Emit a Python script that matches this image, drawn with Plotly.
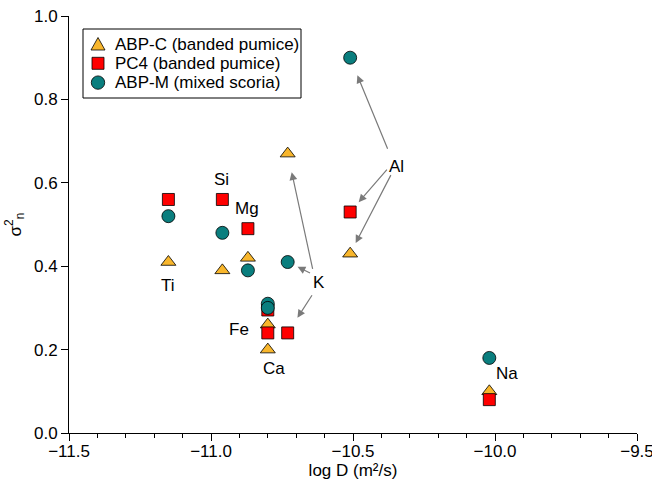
import plotly.graph_objects as go

# Element diffusivities (log D, m^2/s) and normalised variance for each sample set
abpc_elem = ["Ti", "Si", "Mg", "Al", "K", "Fe", "Ca", "Na"]
abpc_logd = [-11.15, -10.96, -10.87, -10.51, -10.73, -10.80, -10.80, -10.02]
abpc_var = [0.41, 0.39, 0.42, 0.43, 0.67, 0.26, 0.20, 0.10]

pc4_elem = ["Ti", "Si", "Mg", "Al", "K", "Fe", "Ca", "Na"]
pc4_logd = [-11.15, -10.96, -10.87, -10.51, -10.73, -10.80, -10.80, -10.02]
pc4_var = [0.56, 0.56, 0.49, 0.53, 0.24, 0.24, 0.295, 0.08]

abpm_elem = ["Ti", "Si", "Mg", "Al", "K", "Fe", "Ca", "Na"]
abpm_logd = [-11.15, -10.96, -10.87, -10.51, -10.73, -10.80, -10.80, -10.02]
abpm_var = [0.52, 0.48, 0.39, 0.90, 0.41, 0.31, 0.30, 0.18]

x_ticks = [-11.5, -11.0, -10.5, -10.0, -9.5]
y_ticks = [0.0, 0.2, 0.4, 0.6, 0.8, 1.0]

# Element labels placed next to their points
label_text = ["Ti", "Si", "Mg", "Al", "K", "Fe", "Ca", "Na"]
label_x = [-11.151, -10.963, -10.875, -10.347, -10.620, -10.901, -10.779, -9.957]
label_y = [0.354, 0.608, 0.5385, 0.638, 0.362, 0.248, 0.155, 0.1425]

# Pointer arrows: (tail x, tail y, series, element, standoff px)
arrow_specs = [
    (-10.376, 0.678, "ABP-M", "Al", 19),
    (-10.376, 0.635, "PC4", "Al", 13),
    (-10.364, 0.622, "ABP-C", "Al", 12),
    (-10.641, 0.390, "ABP-C", "K", 19),
    (-10.646, 0.382, "ABP-M", "K", 11),
    (-10.641, 0.334, "PC4", "K", 18),
]

series = {
    "ABP-C": (abpc_elem, abpc_logd, abpc_var),
    "PC4": (pc4_elem, pc4_logd, pc4_var),
    "ABP-M": (abpm_elem, abpm_logd, abpm_var),
}

legend_names = ["ABP-C (banded pumice)", "PC4 (banded pumice)", "ABP-M (mixed scoria)"]
legend_colors = ["#F8B62C", "#FF0000", "#0A7E7E"]
legend_symbols = ["triangle", "square", "circle"]

FONT = "Liberation Sans, Arial, sans-serif"
W, H = 652, 482
ML, MR, MT, MB = 69, 15, 16, 49
PW, PH = W - ML - MR, H - MT - MB


def px_to_paper(px, py):
    return (px - ML) / PW, (H - MB - py) / PH


outline = dict(color="#000000", width=0.8)

fig = go.Figure()
fig.add_trace(go.Scatter(
    x=abpc_logd, y=abpc_var, mode="markers", name=legend_names[0],
    marker=dict(symbol="triangle-up", size=13, color=legend_colors[0], line=outline),
    cliponaxis=False,
))
fig.add_trace(go.Scatter(
    x=pc4_logd, y=pc4_var, mode="markers", name=legend_names[1],
    marker=dict(symbol="square", size=12, color=legend_colors[1], line=outline),
    cliponaxis=False,
))
fig.add_trace(go.Scatter(
    x=abpm_logd, y=abpm_var, mode="markers", name=legend_names[2],
    marker=dict(symbol="circle", size=13, color=legend_colors[2], line=outline),
    cliponaxis=False,
))

annotations = []
for t, x, y in zip(label_text, label_x, label_y):
    annotations.append(dict(
        x=x, y=y, xref="x", yref="y", text=t, showarrow=False,
        font=dict(size=17, color="#000000", family=FONT),
    ))

for tx, ty, key, elem, so in arrow_specs:
    names, xs, ys = series[key]
    i = names.index(elem)
    annotations.append(dict(
        x=xs[i], y=ys[i], xref="x", yref="y",
        ax=tx, ay=ty, axref="x", ayref="y",
        text="", showarrow=True, arrowhead=2, arrowsize=1.3,
        arrowwidth=1.2, arrowcolor="#7A7A7A", standoff=so,
    ))

# Boxed key in the upper-left corner
shapes = []
bx0, by0 = px_to_paper(83, 29)
bx1, by1 = px_to_paper(301, 98)
shapes.append(dict(type="rect", xref="paper", yref="paper",
                   x0=bx0, x1=bx1, y0=by1, y1=by0,
                   line=dict(color="#000000", width=1), fillcolor="#FFFFFF"))
for k, (name, col, sym) in enumerate(zip(legend_names, legend_colors, legend_symbols)):
    row_y = 44 + 19.3 * k
    kx, ky = px_to_paper(98, row_y)
    common = dict(xref="paper", yref="paper", xsizemode="pixel", ysizemode="pixel",
                  xanchor=kx, yanchor=ky, fillcolor=col,
                  line=dict(color="#000000", width=0.8))
    if sym == "triangle":
        shapes.append(dict(type="path", path="M-7,-6 L7,-6 L0,6.5 Z", **common))
    elif sym == "square":
        shapes.append(dict(type="rect", x0=-6, x1=6, y0=-6, y1=6, **common))
    else:
        shapes.append(dict(type="circle", x0=-6.7, x1=6.7, y0=-6.7, y1=6.7, **common))
    tx, ty = px_to_paper(113, row_y)
    annotations.append(dict(
        x=tx, y=ty, xref="paper", yref="paper", text=name, showarrow=False,
        xanchor="left", yanchor="middle",
        font=dict(size=17, color="#000000", family=FONT),
    ))

axis_common = dict(
    showgrid=False, zeroline=False, showline=True, linecolor="#000000",
    linewidth=1, ticks="outside", tickcolor="#000000", ticklen=7,
    tickwidth=1, tickfont=dict(size=17, color="#000000", family=FONT),
    tickformat=".1f", mirror=False, automargin=False, ticklabeloverflow="allow",
)

fig.update_layout(
    width=W, height=H,
    margin=dict(l=ML, r=MR, t=MT, b=MB),
    paper_bgcolor="#FFFFFF", plot_bgcolor="#FFFFFF",
    font=dict(family=FONT, size=17, color="#000000"),
    showlegend=False,
    annotations=annotations,
    shapes=shapes,
    xaxis=dict(
        range=[-11.5, -9.5], tickmode="array", tickvals=x_ticks,
        ticklabelstandoff=-4,
        title=dict(text="log D (m²/s)", font=dict(size=17), standoff=2),
        minor=dict(dtick=0.1, ticks="outside", ticklen=4, tickcolor="#000000"),
        **axis_common,
    ),
    yaxis=dict(
        range=[0, 1], tickmode="array", tickvals=y_ticks,
        title=dict(text="σ<sup>2</sup><sub>n</sub>", font=dict(size=17), standoff=8),
        **axis_common,
    ),
)

fig.write_html("out.html")
